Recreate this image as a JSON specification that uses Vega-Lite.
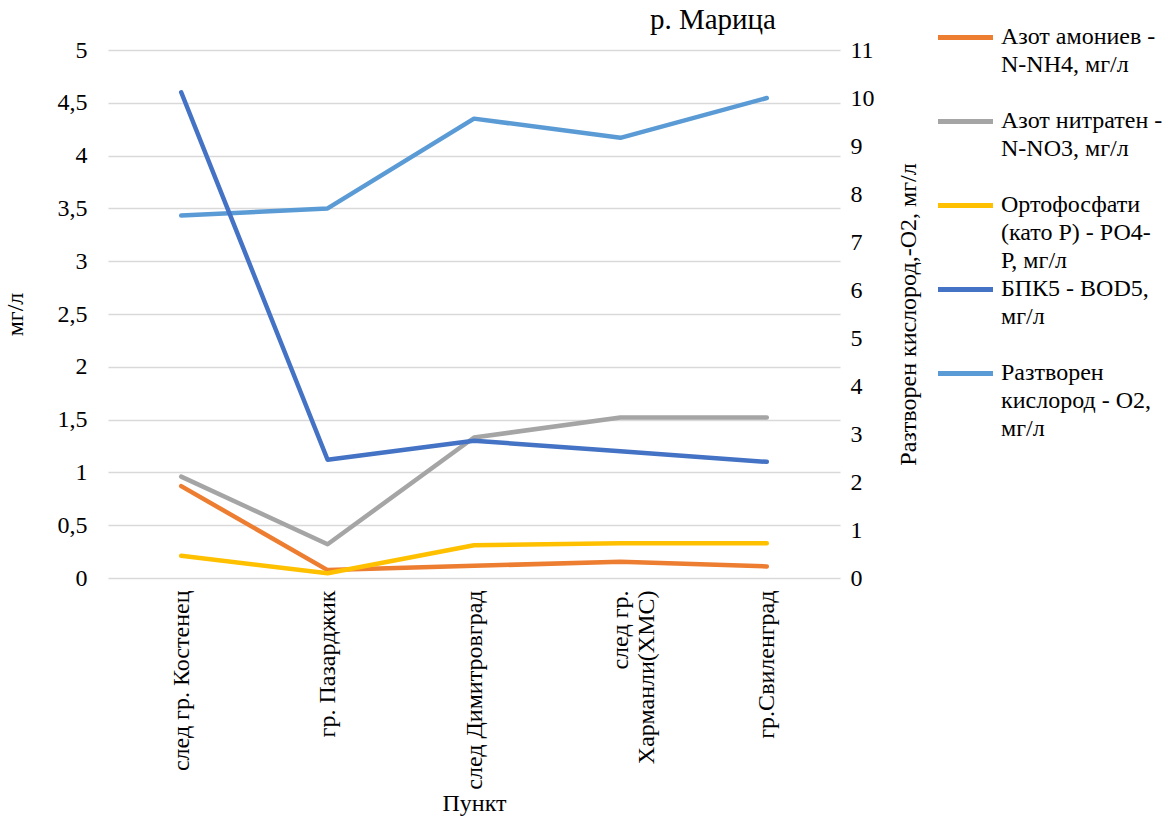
{
  "$schema": "https://vega.github.io/schema/vega-lite/v6.json",
  "width": 732,
  "height": 528,
  "autosize": {"type": "none"},
  "padding": {"left": 108, "top": 50, "right": 328, "bottom": 245},
  "background": "white",
  "config": {
    "font": "Liberation Serif, serif",
    "view": {"stroke": null},
    "axis": {"labelFont": "Liberation Serif, serif", "titleFont": "Liberation Serif, serif", "labelColor": "#000", "titleColor": "#000", "labelFontSize": 24, "titleFontSize": 24, "titleFontWeight": "normal"},
    "legend": {"labelFont": "Liberation Serif, serif"},
    "title": {"font": "Liberation Serif, serif"}
  },
  "title": {"text": "р. Марица", "anchor": "end", "frame": "group", "dx": -64, "fontSize": 29, "fontWeight": "normal", "font": "Liberation Serif, serif", "color": "#000", "offset": -37, "baseline": "alphabetic"},
  "data": {"values": [
    {"punkt": "след гр. Костенец", "series": "Разтворен кислород - О2, мг/л", "value": 7.55},
    {"punkt": "гр. Пазарджик", "series": "Разтворен кислород - О2, мг/л", "value": 7.7},
    {"punkt": "след Димитровград", "series": "Разтворен кислород - О2, мг/л", "value": 9.57},
    {"punkt": "след гр. Харманли(ХМС)", "series": "Разтворен кислород - О2, мг/л", "value": 9.17},
    {"punkt": "гр.Свиленград", "series": "Разтворен кислород - О2, мг/л", "value": 10.0},
    {"punkt": "след гр. Костенец", "series": "Азот амониев - N-NH4, мг/л", "value": 0.87},
    {"punkt": "гр. Пазарджик", "series": "Азот амониев - N-NH4, мг/л", "value": 0.075},
    {"punkt": "след Димитровград", "series": "Азот амониев - N-NH4, мг/л", "value": 0.115},
    {"punkt": "след гр. Харманли(ХМС)", "series": "Азот амониев - N-NH4, мг/л", "value": 0.155},
    {"punkt": "гр.Свиленград", "series": "Азот амониев - N-NH4, мг/л", "value": 0.11},
    {"punkt": "след гр. Костенец", "series": "Азот нитратен - N-NO3, мг/л", "value": 0.96},
    {"punkt": "гр. Пазарджик", "series": "Азот нитратен - N-NO3, мг/л", "value": 0.32},
    {"punkt": "след Димитровград", "series": "Азот нитратен - N-NO3, мг/л", "value": 1.33},
    {"punkt": "след гр. Харманли(ХМС)", "series": "Азот нитратен - N-NO3, мг/л", "value": 1.52},
    {"punkt": "гр.Свиленград", "series": "Азот нитратен - N-NO3, мг/л", "value": 1.52},
    {"punkt": "след гр. Костенец", "series": "Ортофосфати (като Р) - РО4-Р, мг/л", "value": 0.21},
    {"punkt": "гр. Пазарджик", "series": "Ортофосфати (като Р) - РО4-Р, мг/л", "value": 0.045},
    {"punkt": "след Димитровград", "series": "Ортофосфати (като Р) - РО4-Р, мг/л", "value": 0.31},
    {"punkt": "след гр. Харманли(ХМС)", "series": "Ортофосфати (като Р) - РО4-Р, мг/л", "value": 0.33},
    {"punkt": "гр.Свиленград", "series": "Ортофосфати (като Р) - РО4-Р, мг/л", "value": 0.33},
    {"punkt": "след гр. Костенец", "series": "БПК5 - BOD5, мг/л", "value": 4.6},
    {"punkt": "гр. Пазарджик", "series": "БПК5 - BOD5, мг/л", "value": 1.12},
    {"punkt": "след Димитровград", "series": "БПК5 - BOD5, мг/л", "value": 1.3},
    {"punkt": "след гр. Харманли(ХМС)", "series": "БПК5 - BOD5, мг/л", "value": 1.2},
    {"punkt": "гр.Свиленград", "series": "БПК5 - BOD5, мг/л", "value": 1.1}
  ]},
  "encoding": {
    "x": {
      "field": "punkt", "type": "nominal", "sort": null,
      "scale": {"type": "point", "padding": 0.5},
      "axis": {
        "title": "Пункт", "labelAngle": -90, "labelAlign": "right", "labelBaseline": "middle",
        "labelPadding": 12, "ticks": false, "domain": false, "grid": false, "labelLimit": 400,
        "titlePadding": 13,
        "labelExpr": "datum.value == 'след гр. Харманли(ХМС)' ? ['след гр.', 'Харманли(ХМС)'] : datum.value"
      }
    },
    "color": {
      "field": "series", "type": "nominal",
      "scale": {
        "domain": ["Азот амониев - N-NH4, мг/л", "Азот нитратен - N-NO3, мг/л", "Ортофосфати (като Р) - РО4-Р, мг/л", "БПК5 - BOD5, мг/л", "Разтворен кислород - О2, мг/л"],
        "range": ["#ED7D31", "#A5A5A5", "#FFC000", "#4472C4", "#5B9BD5"]
      },
      "legend": {
        "title": null, "orient": "none", "legendX": 841, "legendY": -29, "padding": 0,
        "symbolType": "M-2,0H2", "symbolSize": 756, "symbolStrokeWidth": 5,
        "labelFont": "Liberation Serif, serif", "labelFontSize": 24, "labelColor": "#000", "labelLimit": 400,
        "labelOffset": 19, "rowPadding": 0, "labelBaseline": "top",
        "labelExpr": "datum.label == 'Азот амониев - N-NH4, мг/л' ? ['Азот амониев -', 'N-NH4, мг/л', ''] : datum.label == 'Азот нитратен - N-NO3, мг/л' ? ['Азот нитратен -', 'N-NO3, мг/л', ''] : datum.label == 'Ортофосфати (като Р) - РО4-Р, мг/л' ? ['Ортофосфати', '(като Р) - РО4-', 'Р, мг/л'] : datum.label == 'БПК5 - BOD5, мг/л' ? [' БПК5 - BOD5,', 'мг/л', ''] : ['Разтворен', 'кислород - О2,', 'мг/л']",
        "encode": {"labels": {"update": {"dy": {"value": -13}, "lineHeight": {"value": 28}}}}
      }
    }
  },
  "layer": [
    {
      "transform": [{"filter": "datum.series == 'Разтворен кислород - О2, мг/л'"}],
      "mark": {"type": "line", "strokeWidth": 4.5, "strokeCap": "round", "strokeJoin": "round"},
      "encoding": {
        "y": {
          "field": "value", "type": "quantitative",
          "scale": {"domain": [0, 11], "nice": false},
          "axis": {
            "orient": "right", "values": [0,1,2,3,4,5,6,7,8,9,10,11], "grid": false, "domain": false, "ticks": false,
            "labelPadding": 10, "title": "Разтворен кислород,-О2, мг/л", "titleAngle": -90, "titlePadding": 46
          }
        }
      }
    },
    {
      "transform": [{"filter": "datum.series != 'Разтворен кислород - О2, мг/л'"}],
      "mark": {"type": "line", "strokeWidth": 4.5, "strokeCap": "round", "strokeJoin": "round"},
      "encoding": {
        "y": {
          "field": "value", "type": "quantitative",
          "scale": {"domain": [0, 5], "nice": false},
          "axis": {
            "orient": "left", "values": [0,0.5,1,1.5,2,2.5,3,3.5,4,4.5,5], "grid": true, "gridColor": "#D9D9D9", "gridWidth": 1.5,
            "domain": false, "ticks": false, "labelPadding": 21, "title": "мг/л", "titlePadding": 30,
            "labelExpr": "replace(toString(datum.value), '.', ',')"
          }
        }
      }
    }
  ],
  "resolve": {"scale": {"y": "independent"}}
}
